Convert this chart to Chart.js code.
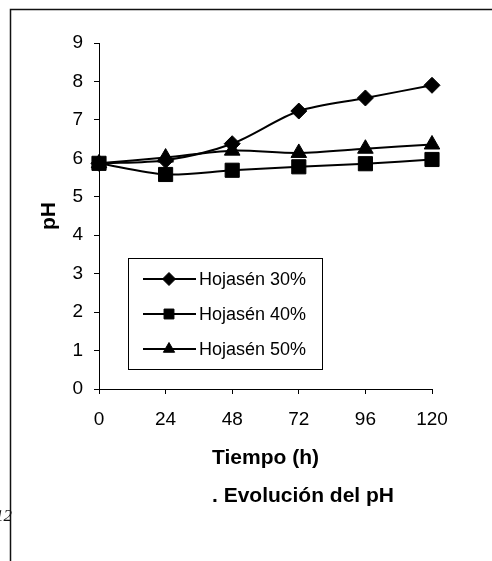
<!DOCTYPE html>
<html>
<head>
<meta charset="utf-8">
<script src="https://cdn.jsdelivr.net/npm/chart.js@4/dist/chart.umd.min.js"></script>
<style>
  html, body { margin: 0; padding: 0; background: #ffffff; }
  #wrap { width: 492px; height: 561px; }
</style>
</head>
<body>
<div id="wrap"><canvas id="c" width="492" height="561"></canvas></div>
<script>
// Sampling times (hours) and pH readings for each Hojasén concentration
const tiempos = ['0', '24', '48', '72', '96', '120'];
const hojasen30 = [5.87, 5.95, 6.38, 7.23, 7.57, 7.90];
const hojasen40 = [5.87, 5.58, 5.69, 5.78, 5.86, 5.97];
const hojasen50 = [5.87, 6.02, 6.20, 6.14, 6.25, 6.36];
const seriesLabels = ['Hojasén 30%', 'Hojasén 40%', 'Hojasén 50%'];
const yTicks = [0, 1, 2, 3, 4, 5, 6, 7, 8, 9];

const FONT = "'Liberation Sans', Arial, Helvetica, sans-serif";
const INK = '#000000';

function serie(label, data, style, radius) {
  return {
    label: label,
    data: data,
    borderColor: INK,
    backgroundColor: INK,
    borderWidth: 2,
    tension: 0.3,
    pointStyle: style,
    pointRadius: radius,
    pointHoverRadius: radius,
    pointBorderWidth: 1,
    pointBorderColor: INK,
    pointBackgroundColor: INK,
    legendRadius: style === 'rect' ? 7 : 6.5
  };
}

// Fallback marker painter in case helpers are not exposed
function paintMarker(ctx, style, r, x, y) {
  if (window.Chart && Chart.helpers && Chart.helpers.drawPoint) {
    Chart.helpers.drawPoint(ctx, { pointStyle: style, radius: r, rotation: 0, borderWidth: 1 }, x, y);
    return;
  }
  ctx.beginPath();
  if (style === 'rect') {
    const s = r * Math.SQRT1_2;
    ctx.rect(x - s, y - s, 2 * s, 2 * s);
  } else if (style === 'rectRot') {
    ctx.moveTo(x, y - r); ctx.lineTo(x + r, y); ctx.lineTo(x, y + r); ctx.lineTo(x - r, y);
  } else {
    ctx.moveTo(x, y - r);
    ctx.lineTo(x + r * Math.sin(Math.PI * 2 / 3), y - r * Math.cos(Math.PI * 2 / 3));
    ctx.lineTo(x - r * Math.sin(Math.PI * 2 / 3), y - r * Math.cos(Math.PI * 2 / 3));
  }
  ctx.closePath();
  ctx.fill();
  ctx.stroke();
}

// Paper background, page frame, inset legend and figure caption
const decoraciones = {
  id: 'decoraciones',
  beforeDraw(chart) {
    const ctx = chart.ctx;
    ctx.save();
    ctx.fillStyle = '#ffffff';
    ctx.fillRect(0, 0, chart.width, chart.height);
    ctx.restore();
  },
  afterDraw(chart) {
    const ctx = chart.ctx;
    ctx.save();

    // stray page number peeking from the margin, partly under the frame
    ctx.fillStyle = '#111111';
    ctx.font = "italic 17px 'Liberation Serif', 'Times New Roman', serif";
    ctx.textAlign = 'right';
    ctx.textBaseline = 'alphabetic';
    ctx.fillText('12', 12, 521);

    // page frame (top and left rules)
    ctx.strokeStyle = '#111111';
    ctx.lineWidth = 1.5;
    ctx.beginPath();
    ctx.moveTo(10.5, chart.height);
    ctx.lineTo(10.5, 9.5);
    ctx.lineTo(chart.width, 9.5);
    ctx.stroke();

    // inset legend
    const box = { x: 128.5, y: 258.5, w: 194, h: 111 };
    ctx.fillStyle = '#ffffff';
    ctx.fillRect(box.x, box.y, box.w, box.h);
    ctx.strokeStyle = INK;
    ctx.lineWidth = 1;
    ctx.strokeRect(box.x, box.y, box.w, box.h);

    const rows = [279, 314, 349];
    chart.data.datasets.forEach((ds, i) => {
      const y = rows[i];
      ctx.strokeStyle = ds.borderColor;
      ctx.lineWidth = ds.borderWidth;
      ctx.beginPath();
      ctx.moveTo(143, y);
      ctx.lineTo(196, y);
      ctx.stroke();
      ctx.fillStyle = ds.pointBackgroundColor;
      ctx.strokeStyle = ds.pointBorderColor;
      ctx.lineWidth = 1;
      paintMarker(ctx, ds.pointStyle, ds.legendRadius, 169, y);
      ctx.fillStyle = INK;
      ctx.font = '18px ' + FONT;
      ctx.textAlign = 'left';
      ctx.textBaseline = 'middle';
      ctx.fillText(ds.label, 199, y + 1);
    });

    // caption under the axis title
    ctx.fillStyle = INK;
    ctx.font = 'bold 21px ' + FONT;
    ctx.textAlign = 'left';
    ctx.textBaseline = 'middle';
    ctx.fillText('. Evolución del pH', 212, 496);

    ctx.restore();
  }
};

new Chart(document.getElementById('c'), {
  type: 'line',
  data: {
    labels: tiempos,
    datasets: [
      serie(seriesLabels[0], hojasen30, 'rectRot', 8),
      serie(seriesLabels[1], hojasen40, 'rect', 10),
      serie(seriesLabels[2], hojasen50, 'triangle', 9)
    ]
  },
  options: {
    responsive: false,
    devicePixelRatio: 1,
    animation: false,
    layout: { padding: { top: 43, right: 60, bottom: 90, left: 0 } },
    plugins: {
      legend: { display: false },
      tooltip: { enabled: false },
      title: { display: false }
    },
    scales: {
      x: {
        type: 'category',
        offset: false,
        afterFit(scale) { scale.height = 82; },
        grid: {
          drawOnChartArea: false,
          drawTicks: true,
          tickLength: 5,
          tickWidth: 1,
          tickColor: INK
        },
        border: { display: true, color: INK, width: 1 },
        ticks: {
          color: INK,
          font: { family: FONT, size: 19 },
          padding: 14,
          maxRotation: 0,
          autoSkip: false
        },
        title: {
          display: true,
          text: 'Tiempo (h)',
          color: INK,
          font: { family: FONT, size: 21, weight: 'bold' },
          padding: { top: 0, bottom: 0 }
        }
      },
      y: {
        type: 'linear',
        min: yTicks[0],
        max: yTicks[yTicks.length - 1],
        afterFit(scale) { scale.width = 99; },
        afterBuildTicks(scale) { scale.ticks = yTicks.map(v => ({ value: v })); },
        grid: {
          drawOnChartArea: false,
          drawTicks: true,
          tickLength: 5,
          tickWidth: 1,
          tickColor: INK
        },
        border: { display: true, color: INK, width: 1 },
        ticks: {
          color: INK,
          font: { family: FONT, size: 19 },
          padding: 11
        },
        title: {
          display: true,
          text: 'pH',
          color: INK,
          font: { family: FONT, size: 21, weight: 'bold' },
          padding: { top: 37, bottom: 0 }
        }
      }
    }
  },
  plugins: [decoraciones]
});
</script>
</body>
</html>
